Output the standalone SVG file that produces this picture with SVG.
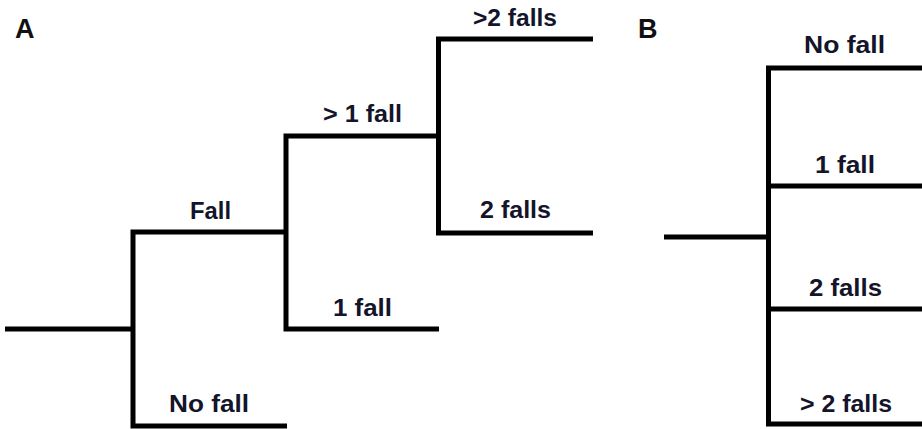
<svg xmlns="http://www.w3.org/2000/svg" width="922" height="429" viewBox="0 0 922 429">
  <style>
    .branch { fill: none; stroke: #000; stroke-width: 5; stroke-linejoin: miter; stroke-linecap: butt; }
    .lbl { font-family: "Liberation Sans", Arial, sans-serif; font-weight: bold; font-size: 24px; fill: #14142a; }
    .panel { font-family: "Liberation Sans", Arial, sans-serif; font-weight: bold; font-size: 27px; fill: #111; }
  </style>
  <rect width="922" height="429" fill="#fff"/>

  <!-- panel letters -->
  <text class="panel" x="15" y="38">A</text>
  <text class="panel" x="638" y="38">B</text>

  <!-- tree branches -->
  <g id="connectors">
    <!-- tree A -->
    <path class="branch" d="M5,329 H133"/>
    <path class="branch" d="M287,232 H133 V426 H287"/>
    <path class="branch" d="M439,136 H286 V329 H439"/>
    <path class="branch" d="M593,39 H438.5 V233 H593"/>
    <!-- tree B -->
    <path class="branch" d="M664,237 H768.5"/>
    <path class="branch" d="M922,68 H768.5 V424 H922"/>
    <path class="branch" d="M768.5,186 H922"/>
    <path class="branch" d="M768.5,309 H922"/>
  </g>

  <!-- tree A outcomes -->
  <g id="a-fall"><text class="lbl" x="190" y="219" textLength="41" lengthAdjust="spacingAndGlyphs">Fall</text></g>
  <g id="a-nofall"><text class="lbl" x="169" y="412" textLength="80" lengthAdjust="spacingAndGlyphs">No fall</text></g>
  <g id="a-onefall"><text class="lbl" x="333" y="316" textLength="59" lengthAdjust="spacingAndGlyphs">1 fall</text></g>
  <g id="a-morethan1"><text class="lbl" x="323" y="122" textLength="79" lengthAdjust="spacingAndGlyphs">&gt; 1 fall</text></g>
  <g id="a-morethan2"><text class="lbl" x="473" y="26" textLength="84" lengthAdjust="spacingAndGlyphs">&gt;2 falls</text></g>
  <g id="a-twofalls"><text class="lbl" x="480" y="218" textLength="71" lengthAdjust="spacingAndGlyphs">2 falls</text></g>

  <!-- tree B outcomes -->
  <g id="b-nofall"><text class="lbl" x="804" y="53" textLength="81" lengthAdjust="spacingAndGlyphs">No fall</text></g>
  <g id="b-onefall"><text class="lbl" x="815" y="173" textLength="60" lengthAdjust="spacingAndGlyphs">1 fall</text></g>
  <g id="b-twofalls"><text class="lbl" x="809" y="296" textLength="73" lengthAdjust="spacingAndGlyphs">2 falls</text></g>
  <g id="b-morethan2"><text class="lbl" x="800" y="412" textLength="92" lengthAdjust="spacingAndGlyphs">&gt; 2 falls</text></g>
</svg>
